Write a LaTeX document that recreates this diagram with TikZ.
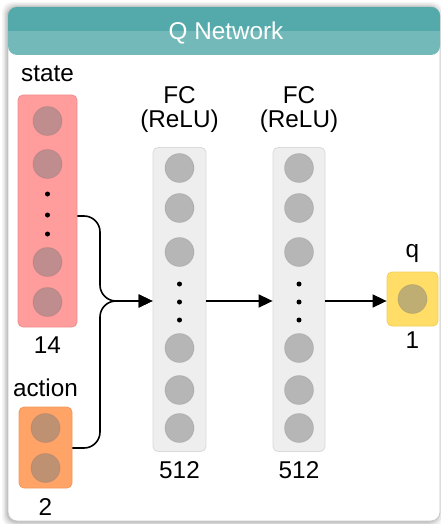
\documentclass[tikz,border=0pt]{standalone}
\usepackage{fontspec}
\setmainfont{Liberation Sans}
\usetikzlibrary{arrows.meta}
\definecolor{hdrtop}{HTML}{54AAAA}
\definecolor{hdrbot}{HTML}{73B9B9}
\definecolor{statefill}{HTML}{FF9C9C}
\definecolor{stateline}{HTML}{EE9090}
\definecolor{actfill}{HTML}{FFA366}
\definecolor{actline}{HTML}{F09A5E}
\definecolor{qfill}{HTML}{FFDD66}
\definecolor{qline}{HTML}{F0CF60}
\definecolor{fcfill}{HTML}{EEEEEE}
\definecolor{fcline}{HTML}{DADADA}
\definecolor{frameline}{HTML}{C8C8C8}
\begin{document}
\begin{tikzpicture}[x=1pt,y=-1pt,
  lbl/.style={font=\fontsize{24.3}{24}\selectfont, anchor=base, inner sep=0pt},
  layerbox/.style={rectangle, rounded corners=5pt, line width=0.8pt, inner sep=0pt},
  neuron/.style={circle, minimum size=29pt, inner sep=0pt, fill=black!50, fill opacity=0.5, draw=black!60, draw opacity=0.2, line width=0.8pt},
  dotn/.style={circle, fill=black, minimum size=5pt, inner sep=0pt},
  conn/.style={line width=1.6pt, -{Triangle[length=14pt,width=13pt]}},
]
\useasboundingbox (0,0) rectangle (441,524);
% shadow
\foreach \o/\a in {6/0.04,4.5/0.06,3/0.08,1.5/0.1}{
  \fill[black, opacity=\a, rounded corners=10pt] (8-\o,7-\o+1) rectangle (440+\o-3,521+\o);
}
% outer frame
\filldraw[fill=white, draw=frameline, line width=0.8pt, rounded corners=9pt] (8,7) rectangle (440,521);
% header
\fill[hdrbot, rounded corners=9pt] (8,7) rectangle (440,55);
\begin{scope}
  \clip[rounded corners=9pt] (8,7) rectangle (440,55);
  \fill[hdrtop] (8,7) rectangle (440,31);
\end{scope}
\node[lbl, text=white] (title) at (226,39.5) {Q Network};

% boxes
\node[layerbox, fill=statefill, draw=stateline, minimum width=59pt, minimum height=232pt] (st) at (47.5,211) {};
\node[layerbox, fill=actfill, draw=actline, minimum width=53pt, minimum height=81pt] (ac) at (45.5,447.5) {};
\node[layerbox, fill=fcfill, draw=fcline, minimum width=53pt, minimum height=304pt] (f1) at (179.5,299.5) {};
\node[layerbox, fill=fcfill, draw=fcline, minimum width=52pt, minimum height=304pt] (f2) at (299,299.5) {};
\node[layerbox, fill=qfill, draw=qline, minimum width=51pt, minimum height=54pt] (qb) at (412.5,299) {};

% state neurons
\node[neuron] (s1) at (47.5,121) {};
\node[neuron] (s2) at (47.5,164) {};
\node[dotn] (sd1) at (47.5,194) {};
\node[dotn] (sd2) at (47.5,215) {};
\node[dotn] (sd3) at (47.5,234) {};
\node[neuron] (s3) at (47.5,262) {};
\node[neuron] (s4) at (47.5,302) {};
% action neurons
\node[neuron] (a1) at (45.5,428) {};
\node[neuron] (a2) at (45.5,468) {};
% FC layers
\foreach \L/\x in {f1n/179.5, f2n/299}{
  \node[neuron] (\L1) at (\x,168) {};
  \node[neuron] (\L2) at (\x,208) {};
  \node[neuron] (\L3) at (\x,252) {};
  \node[dotn] (\L d1) at (\x,284) {};
  \node[dotn] (\L d2) at (\x,302) {};
  \node[dotn] (\L d3) at (\x,320) {};
  \node[neuron] (\L4) at (\x,348) {};
  \node[neuron] (\L5) at (\x,390) {};
  \node[neuron] (\L6) at (\x,428) {};
}
% q neuron
\node[neuron] (q1) at (412.5,299) {};

% labels
\node[lbl] (lstate) at (47.5,82) {state};
\node[lbl] (l14) at (47.5,353) {14};
\node[lbl] (laction) at (45.5,396) {action};
\node[lbl] (l2) at (45.5,515) {2};
\node[lbl, align=center, anchor=base] (lfc1) at (179.5,127) {FC\\(ReLU)};
\node[lbl, align=center, anchor=base] (lfc2) at (299,127) {FC\\(ReLU)};
\node[lbl] (l512a) at (179.5,478) {512};
\node[lbl] (l512b) at (299,478) {512};
\node[lbl] (lq) at (412.5,257) {q};
\node[lbl] (l1) at (412.5,348) {1};

% connectors
\coordinate (sout) at (st.east |- 0,216);
\coordinate (aout) at (ac.east |- 0,448);
\coordinate (fin) at (f1.west |- 0,301);
\draw[conn, rounded corners=16pt] (sout) -- (100,216) -- (100,301) -- (fin);
\draw[conn, rounded corners=16pt] (aout) -- (100,448) -- (100,301) -- (fin);
\draw[conn] (f1.east |- 0,301) -- (f2.west |- 0,301);
\draw[conn] (f2.east |- 0,301) -- (qb.west |- 0,301);
\end{tikzpicture}
\end{document}
